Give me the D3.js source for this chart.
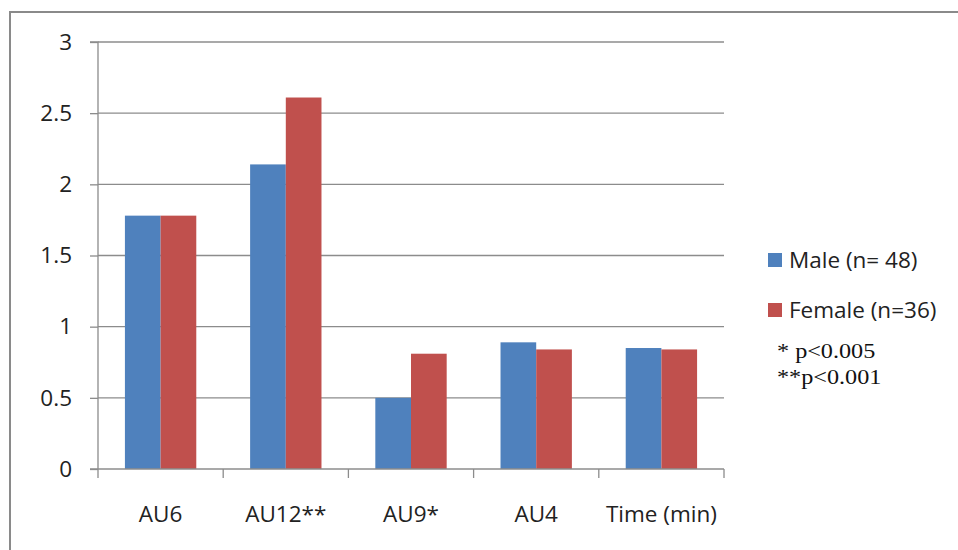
<!DOCTYPE html>
<html><head><meta charset="utf-8">
<script src="https://cdn.jsdelivr.net/npm/d3@7"></script>
<style>html,body{margin:0;padding:0;background:#fff;}svg{display:block;}</style>
</head><body>
<svg id="chart" width="958" height="550"></svg>
<script>
const categories = ["AU6", "AU12**", "AU9*", "AU4", "Time (min)"];
const seriesNames = ["Male (n= 48)", "Female (n=36)"];
const maleValues = [1.78, 2.14, 0.50, 0.89, 0.85];
const femaleValues = [1.78, 2.61, 0.81, 0.84, 0.84];
const yTicks = [0, 0.5, 1, 1.5, 2, 2.5, 3];
const notes = ["* p<0.005", "**p<0.001"];
const colors = ["#4F81BD", "#C0504D"];

(function () {
const svg = d3.select("#chart");
const font = "'Open Sans', Lato, sans-serif";
const fs = 22.5;

// outer border
svg.append("rect").attr("x", 10).attr("y", 12).attr("width", 960).attr("height", 560)
  .attr("fill", "none").attr("stroke", "#8a8a8a").attr("stroke-width", 2);

const pLeft = 98, pRight = 724, pTop = 42, pBottom = 469;
const x0 = d3.scaleBand().domain(categories).range([pLeft, pRight]).paddingInner(0.43).paddingOuter(0.215);
const x1 = d3.scaleBand().domain(seriesNames).range([0, x0.bandwidth()]);
const y = d3.scaleLinear().domain([0, 3]).range([pBottom, pTop]);

// gridlines
svg.append("g").selectAll("line").data(yTicks.filter(d => d > 0)).join("line")
  .attr("x1", pLeft).attr("x2", pRight).attr("y1", d => y(d)).attr("y2", d => y(d))
  .attr("stroke", "#8c8c8c").attr("stroke-width", 1.3);

// bars
const data = categories.map((c, i) => ({c, vals: [maleValues[i], femaleValues[i]]}));
const g = svg.append("g").selectAll("g").data(data).join("g")
  .attr("transform", d => `translate(${x0(d.c)},0)`);
g.selectAll("rect").data(d => d.vals.map((v, j) => ({v, s: seriesNames[j], j}))).join("rect")
  .attr("x", d => x1(d.s)).attr("width", x1.bandwidth())
  .attr("y", d => y(d.v)).attr("height", d => y(0) - y(d.v))
  .attr("fill", d => colors[d.j]);

// y axis
const yAxis = d3.axisLeft(y).tickValues(yTicks).tickSize(8).tickPadding(18)
  .tickFormat(d => String(d));
const ya = svg.append("g").attr("transform", `translate(${pLeft},0)`).call(yAxis);
ya.select(".domain").attr("stroke", "#8c8c8c").attr("stroke-width", 1.3).attr("d", `M-8,${pTop}H0V${pBottom}`);
ya.selectAll(".tick line").attr("stroke", "#8c8c8c").attr("stroke-width", 1.3);
ya.selectAll("text").attr("font-family", font).attr("font-size", fs).attr("fill", "#222");

// x axis baseline and ticks at category boundaries
const xa = svg.append("g");
xa.append("line").attr("x1", pLeft - 8).attr("x2", pRight).attr("y1", pBottom).attr("y2", pBottom)
  .attr("stroke", "#8c8c8c").attr("stroke-width", 1.3);
const step = x0.step();
const bounds = d3.range(categories.length + 1).map(i => x0(categories[0]) - x0.paddingOuter() * step + i * step);
xa.selectAll("line.bt").data(bounds).join("line").attr("class", "bt")
  .attr("x1", d => d).attr("x2", d => d).attr("y1", pBottom).attr("y2", pBottom + 9)
  .attr("stroke", "#8c8c8c").attr("stroke-width", 1.3);
xa.selectAll("text").data(categories).join("text")
  .attr("x", d => x0(d) + x0.bandwidth() / 2).attr("y", 522)
  .attr("text-anchor", "middle").attr("font-family", font).attr("font-size", fs).attr("fill", "#222")
  .text(d => d);

// legend
const lg = svg.append("g");
seriesNames.forEach((s, i) => {
  const yy = 260 + i * 50;
  lg.append("rect").attr("x", 768).attr("y", yy - 7).attr("width", 14).attr("height", 14).attr("fill", colors[i]);
  lg.append("text").attr("x", 789).attr("y", yy + 8).attr("font-family", font).attr("font-size", fs)
    .attr("fill", "#222").text(s);
});
notes.forEach((n, i) => {
  lg.append("text").attr("transform", `translate(777,${358 + i * 26}) scale(1.1,1)`)
    .attr("font-family", "'Liberation Serif', 'Times New Roman', serif")
    .attr("font-size", 22).attr("fill", "#111").text(n);
});
})();
</script>
</body></html>
